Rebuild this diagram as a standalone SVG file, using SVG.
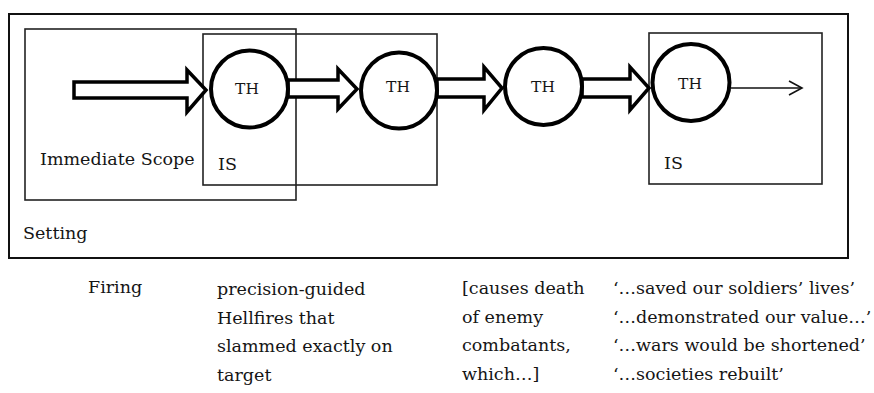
<svg xmlns="http://www.w3.org/2000/svg" width="874" height="393" viewBox="0 0 874 393">
  <style>
    .frame { fill: none; stroke: #111; stroke-width: 2; }
    .scope { fill: none; stroke: #222; stroke-width: 1.6; }
    .block { fill: #fff; stroke: #000; stroke-width: 3.5; stroke-linejoin: miter; stroke-miterlimit: 10; }
    .th circle { fill: #fff; stroke: #000; stroke-width: 4; }
    .thin { fill: none; stroke: #111; stroke-width: 1.6; }
    text { font-family: "DejaVu Serif", "Liberation Serif", serif; fill: #151515; }
    .lbl { font-size: 17.5px; }
    .thl { font-size: 15.5px; text-anchor: middle; }
  </style>

  <!-- frames -->
  <g id="setting">
    <rect class="frame" x="9" y="14" width="839" height="244"/>
    <text class="lbl" x="23" y="239">Setting</text>
  </g>
  <g id="immediate-scope">
    <rect class="scope" x="25" y="29" width="271" height="171"/>
    <text class="lbl" x="40" y="165">Immediate Scope</text>
  </g>
  <g id="is-1">
    <rect class="scope" x="203" y="34" width="234" height="151"/>
    <text class="lbl" x="218" y="170">IS</text>
  </g>
  <g id="is-2">
    <rect class="scope" x="649" y="33" width="173" height="151"/>
    <text class="lbl" x="664" y="169">IS</text>
  </g>

  <!-- connectors -->
  <g id="connectors">
    <polygon class="block" points="74,82 187,82 187,70 206,90 187,112 187,98 74,98"/>
    <polygon class="block" points="288,80 338,80 338,69 357,89 338,109 338,97 288,97"/>
    <polygon class="block" points="437,79 484,79 484,67 502,88 484,110 484,97 437,97"/>
    <polygon class="block" points="582,79 630,79 630,67 649,88 630,110 630,97 582,97"/>
    <line class="thin" x1="731" y1="88" x2="802" y2="88"/>
    <polyline class="thin" points="789,81 802,88 789,95"/>
  </g>

  <!-- TH nodes -->
  <g id="th-1" class="th">
    <circle cx="249.5" cy="89" r="38.5"/>
    <text class="thl" x="247" y="94">TH</text>
  </g>
  <g id="th-2" class="th">
    <circle cx="399" cy="90.5" r="38"/>
    <text class="thl" x="398" y="92">TH</text>
  </g>
  <g id="th-3" class="th">
    <circle cx="543.5" cy="86.5" r="38.5"/>
    <text class="thl" x="543" y="92">TH</text>
  </g>
  <g id="th-4" class="th">
    <circle cx="691" cy="82.5" r="38.5"/>
    <text class="thl" x="690" y="89">TH</text>
  </g>

  <!-- annotations -->
  <g id="firing">
    <text class="lbl" x="88" y="293">Firing</text>
  </g>
  <g id="hellfires">
    <text class="lbl" x="217" y="295">precision-guided</text>
    <text class="lbl" x="217" y="324">Hellfires that</text>
    <text class="lbl" x="217" y="352">slammed exactly on</text>
    <text class="lbl" x="217" y="381">target</text>
  </g>
  <g id="causes">
    <text class="lbl" x="462" y="294">[causes death</text>
    <text class="lbl" x="462" y="323">of enemy</text>
    <text class="lbl" x="462" y="351">combatants,</text>
    <text class="lbl" x="462" y="380">which…]</text>
  </g>
  <g id="quotes">
    <text class="lbl" x="613" y="294">‘…saved our soldiers’ lives’</text>
    <text class="lbl" x="613" y="323">‘…demonstrated our value…’</text>
    <text class="lbl" x="613" y="351">‘…wars would be shortened’</text>
    <text class="lbl" x="613" y="380">‘…societies rebuilt’</text>
  </g>
</svg>
